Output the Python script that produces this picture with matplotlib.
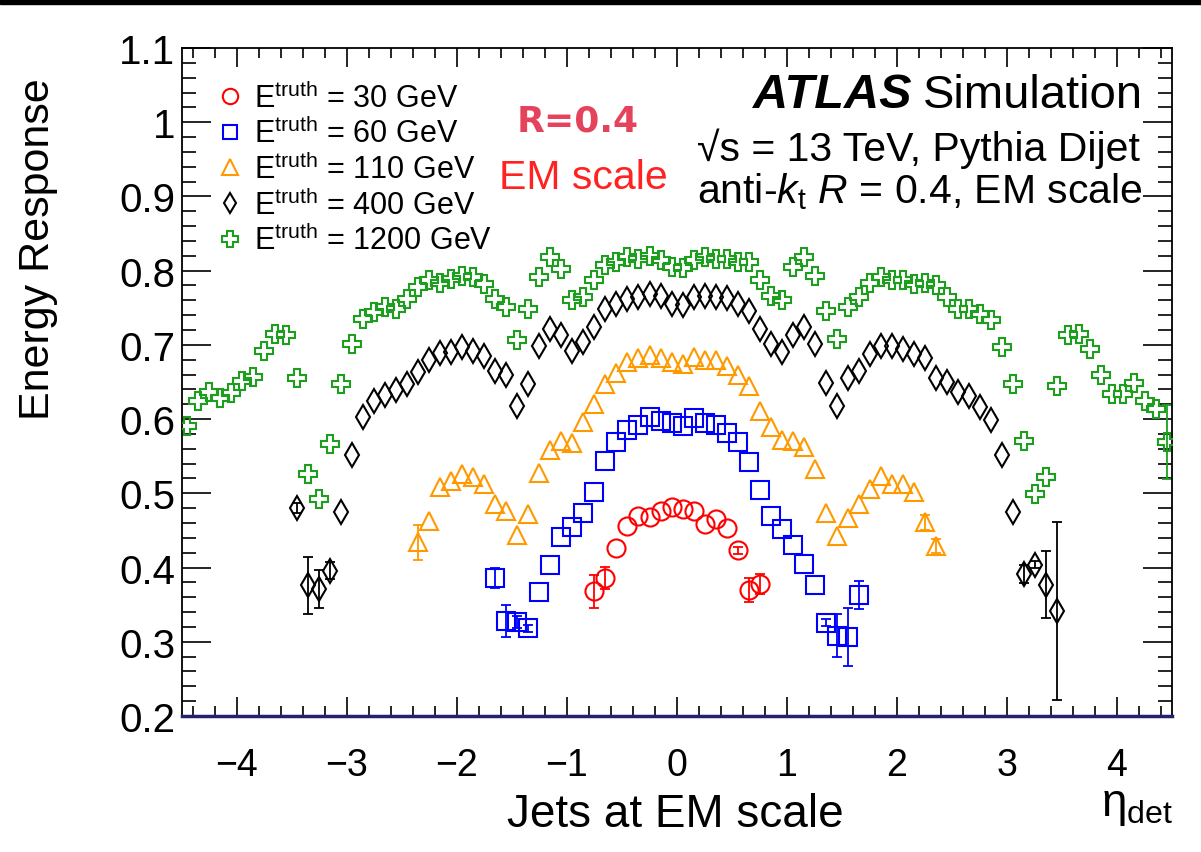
import numpy as np
import matplotlib.pyplot as plt
from matplotlib.ticker import MultipleLocator
from matplotlib.patches import Rectangle

plt.rcParams['font.family'] = ['Liberation Sans', 'DejaVu Sans']
plt.rcParams['mathtext.fontset'] = 'custom'
plt.rcParams['mathtext.rm'] = 'Liberation Sans'
plt.rcParams['mathtext.it'] = 'Liberation Sans:italic'
plt.rcParams['mathtext.bf'] = 'Liberation Sans:bold'

# --- data (eta_det bin centres, response) ---
eta_30 = [-0.75, -0.65, -0.55, -0.45, -0.35, -0.25, -0.15, -0.05,
          0.05, 0.15, 0.25, 0.35, 0.45, 0.55, 0.65, 0.75]
resp_30 = [0.368, 0.386, 0.427, 0.456, 0.470, 0.468, 0.476, 0.481,
           0.479, 0.476, 0.459, 0.465, 0.453, 0.423, 0.370, 0.378]
err_eta_30 = [-0.75, -0.65, 0.55, 0.65, 0.75]
err_30 = [0.022, 0.015, 0.005, 0.016, 0.013]

eta_60 = [-1.65, -1.55, -1.45, -1.35, -1.25, -1.15, -1.05, -0.95, -0.85,
          -0.75, -0.65, -0.55, -0.45, -0.35, -0.25, -0.15, -0.05,
          0.05, 0.15, 0.25, 0.35, 0.45, 0.55, 0.65, 0.75, 0.85, 0.95,
          1.05, 1.15, 1.25, 1.35, 1.45, 1.55, 1.65]
resp_60 = [0.386, 0.328, 0.327, 0.318, 0.367, 0.404, 0.441, 0.455, 0.474,
           0.502, 0.544, 0.569, 0.586, 0.592, 0.603, 0.598, 0.595,
           0.591, 0.602, 0.595, 0.592, 0.581, 0.569, 0.542, 0.505, 0.469, 0.452,
           0.430, 0.405, 0.376, 0.326, 0.308, 0.307, 0.363]
err_eta_60 = [-1.65, -1.55, -1.45, -1.35, 1.35, 1.45, 1.55, 1.65]
err_60 = [0.014, 0.021, 0.008, 0.005, 0.005, 0.029, 0.039, 0.019]

eta_110 = [-2.35, -2.25, -2.15, -2.05, -1.95, -1.85, -1.75, -1.65, -1.55,
           -1.45, -1.35, -1.25, -1.15, -1.05, -0.95, -0.85, -0.75, -0.65,
           -0.55, -0.45, -0.35, -0.25, -0.15, -0.05,
           0.05, 0.15, 0.25, 0.35, 0.45, 0.55, 0.65, 0.75, 0.85, 0.95,
           1.05, 1.15, 1.25, 1.35, 1.45, 1.55, 1.65, 1.75, 1.85, 1.95,
           2.05, 2.15, 2.25, 2.35]
resp_110 = [0.434, 0.463, 0.509, 0.516, 0.526, 0.522, 0.512, 0.486, 0.476,
            0.444, 0.472, 0.527, 0.558, 0.571, 0.568, 0.596, 0.620, 0.647,
            0.662, 0.677, 0.683, 0.686, 0.682, 0.677,
            0.674, 0.684, 0.680, 0.680, 0.672, 0.659, 0.645, 0.611, 0.589, 0.572,
            0.571, 0.563, 0.533, 0.474, 0.443, 0.467, 0.486, 0.506, 0.523, 0.512,
            0.513, 0.502, 0.461, 0.429]
err_eta_110 = [-2.35, 2.25, 2.35]
err_110 = [0.024, 0.010, 0.010]

eta_400 = [-3.45, -3.35, -3.25, -3.15, -3.05, -2.95, -2.85, -2.75, -2.65,
           -2.55, -2.45, -2.35, -2.25, -2.15, -2.05, -1.95, -1.85, -1.75,
           -1.65, -1.55, -1.45, -1.35, -1.25, -1.15, -1.05, -0.95, -0.85,
           -0.75, -0.65, -0.55, -0.45, -0.35, -0.25, -0.15, -0.05,
           0.05, 0.15, 0.25, 0.35, 0.45, 0.55, 0.65, 0.75, 0.85, 0.95,
           1.05, 1.15, 1.25, 1.35, 1.45, 1.55, 1.65, 1.75, 1.85, 1.95,
           2.05, 2.15, 2.25, 2.35, 2.45, 2.55, 2.65, 2.75, 2.85, 2.95,
           3.05, 3.15, 3.25, 3.35, 3.45]
resp_400 = [0.480, 0.376, 0.371, 0.396, 0.475, 0.552, 0.603, 0.624, 0.632,
            0.639, 0.647, 0.663, 0.679, 0.689, 0.690, 0.697, 0.692, 0.685,
            0.665, 0.660, 0.618, 0.647, 0.698, 0.722, 0.713, 0.692, 0.704,
            0.724, 0.749, 0.755, 0.762, 0.764, 0.769, 0.766, 0.755,
            0.754, 0.764, 0.766, 0.764, 0.763, 0.755, 0.746, 0.722, 0.701, 0.691,
            0.713, 0.724, 0.701, 0.649, 0.617, 0.656, 0.665, 0.688, 0.698, 0.698,
            0.694, 0.688, 0.682, 0.656, 0.650, 0.636, 0.631, 0.616, 0.599, 0.552,
            0.475, 0.391, 0.404, 0.377, 0.342]
err_eta_400 = [-3.45, -3.35, -3.25, -3.15, 3.15, 3.25, 3.35, 3.45]
err_400 = [0.007, 0.038, 0.026, 0.011, 0.012, 0.005, 0.045, 0.120]

eta_1200 = [-4.45, -4.35, -4.25, -4.15, -4.05, -3.95, -3.85, -3.75, -3.65,
            -3.55, -3.45, -3.35, -3.25, -3.15, -3.05, -2.95, -2.85, -2.75,
            -2.65, -2.55, -2.45, -2.35, -2.25, -2.15, -2.05, -1.95, -1.85,
            -1.75, -1.65, -1.55, -1.45, -1.35, -1.25, -1.15, -1.05, -0.95,
            -0.85, -0.75, -0.65, -0.55, -0.45, -0.35, -0.25, -0.15, -0.05,
            0.05, 0.15, 0.25, 0.35, 0.45, 0.55, 0.65, 0.75, 0.85, 0.95,
            1.05, 1.15, 1.25, 1.35, 1.45, 1.55, 1.65, 1.75, 1.85, 1.95,
            2.05, 2.15, 2.25, 2.35, 2.45, 2.55, 2.65, 2.75, 2.85, 2.95,
            3.05, 3.15, 3.25, 3.35, 3.45, 3.55, 3.65, 3.75, 3.85, 3.95,
            4.05, 4.15, 4.25, 4.35, 4.45]
resp_1200 = [0.591, 0.625, 0.636, 0.628, 0.635, 0.652, 0.657, 0.692, 0.715,
             0.713, 0.656, 0.526, 0.493, 0.567, 0.647, 0.701, 0.735, 0.744,
             0.751, 0.749, 0.762, 0.778, 0.787, 0.784, 0.789, 0.793, 0.791,
             0.782, 0.762, 0.751, 0.706, 0.749, 0.791, 0.818, 0.802, 0.760,
             0.764, 0.787, 0.807, 0.811, 0.818, 0.816, 0.820, 0.814, 0.805,
             0.803, 0.814, 0.818, 0.816, 0.816, 0.811, 0.811, 0.787, 0.766, 0.760,
             0.805, 0.818, 0.793, 0.746, 0.708, 0.751, 0.764, 0.784, 0.792, 0.787,
             0.787, 0.782, 0.784, 0.780, 0.764, 0.749, 0.749, 0.742, 0.733, 0.697,
             0.647, 0.571, 0.499, 0.522, 0.644, 0.713, 0.715, 0.695, 0.659, 0.634,
             0.634, 0.649, 0.625, 0.614, 0.569]
err_eta_1200 = [4.45]
err_1200 = [0.050]

labels = [r'E$^{\rm truth}$ = 30 GeV', r'E$^{\rm truth}$ = 60 GeV',
          r'E$^{\rm truth}$ = 110 GeV', r'E$^{\rm truth}$ = 400 GeV',
          r'E$^{\rm truth}$ = 1200 GeV']

series = [
    (eta_30, resp_30, err_eta_30, err_30, 'o', '#ff0000', 13),
    (eta_60, resp_60, err_eta_60, err_60, 's', '#0000ff', 12.5),
    (eta_110, resp_110, err_eta_110, err_110, '^', '#ff9900', 13),
    (eta_400, resp_400, err_eta_400, err_400, 'd', '#000000', 12.5),
    (eta_1200, resp_1200, err_eta_1200, err_1200, 'P', '#1e9e1e', 13),
]

fig = plt.figure(figsize=(12.01, 8.53), dpi=100)
ax = fig.add_axes([0.1515, 0.1594, 0.8244, 0.7832])

for (eta, resp, e_eta, e_val, mk, col, ms), lab in zip(series, labels):
    ey = [resp[eta.index(e)] for e in e_eta]
    ax.errorbar(e_eta, ey, yerr=e_val, fmt='none', ecolor=col,
                elinewidth=1.3, capsize=3.5, capthick=1.3, zorder=2)
    ax.plot(eta, resp, ls='none', marker=mk, ms=ms, mfc='none', mec=col,
            mew=1.5, label=lab, zorder=3)

ax.set_xlim(-4.5, 4.5)
ax.set_ylim(0.2, 1.1)
ax.xaxis.set_major_locator(MultipleLocator(1))
ax.xaxis.set_minor_locator(MultipleLocator(0.2))
ax.yaxis.set_minor_locator(MultipleLocator(0.02))
ax.set_yticks([0.2, 0.3, 0.4, 0.5, 0.6, 0.7, 0.8, 0.9, 1.0, 1.1])
ax.set_yticklabels(['0.2', '0.3', '0.4', '0.5', '0.6', '0.7', '0.8', '0.9', '1', '1.1'])

ax.tick_params(axis='both', which='both', direction='in', top=True, right=True,
               width=1.2, color='black')
ax.tick_params(axis='x', which='major', length=14, labelsize=27, pad=22)
ax.tick_params(axis='x', which='minor', length=7)
ax.tick_params(axis='y', which='major', length=21, labelsize=29, pad=5)
ax.tick_params(axis='y', which='minor', length=10)
for s in ['top', 'left', 'right']:
    ax.spines[s].set_linewidth(1.3)
ax.spines['bottom'].set_color('#22226e')
ax.spines['bottom'].set_linewidth(2.5)

ax.set_ylabel('Energy Response', fontsize=31)
ax.yaxis.set_label_coords(-0.125, 0.70)

leg = ax.legend(loc='upper left', bbox_to_anchor=(0.025, 0.968), frameon=False,
                fontsize=22, handlelength=0.7, handletextpad=0.45,
                labelspacing=0.12, borderaxespad=0, markerscale=0.85)

# ATLAS label block
sim = ax.text(0.9707, 0.912, 'Simulation', transform=ax.transAxes,
              ha='right', va='baseline', fontsize=34)
ax.annotate('ATLAS', xy=(0, 0), xycoords=sim, xytext=(-8, 0),
            textcoords='offset points', ha='right', va='bottom',
            fontsize=35, fontweight='bold', fontstyle='italic')
ax.text(0.9677, 0.832, '√s = 13 TeV, Pythia Dijet', transform=ax.transAxes,
        ha='right', va='baseline', fontsize=29.5)
ax.text(0.9707, 0.769, r'anti-$k_{\rm t}$ $R$ = 0.4, EM scale', transform=ax.transAxes,
        ha='right', va='baseline', fontsize=29.5)

# red annotations
ax.text(0.400, 0.892, 'R=0.4', transform=ax.transAxes, ha='center', va='center',
        fontsize=26, fontweight='bold', color='#e5435c', family='DejaVu Sans')
ax.text(0.405, 0.807, 'EM scale', transform=ax.transAxes, ha='center', va='center',
        fontsize=29.5, color='#ff2222')

fig.text(0.562, 0.0445, 'Jets at EM scale', ha='center', va='center', fontsize=33)
fig.text(0.977, 0.055, r'η$_{\rm det}$', ha='right', va='center', fontsize=33)

fig.patches.append(Rectangle((0, 1 - 5 / 853), 1, 5 / 853, transform=fig.transFigure,
                             color='black', zorder=10))

fig.savefig('out.png', dpi=100)
